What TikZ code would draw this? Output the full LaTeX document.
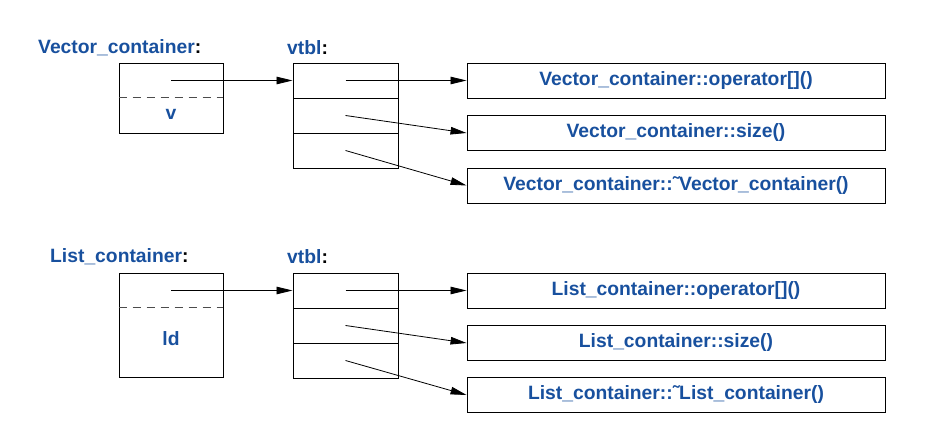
\documentclass[tikz,border=0pt]{standalone}
\usepackage{fontspec}
\setmainfont{Liberation Sans}
\usetikzlibrary{arrows.meta}
\definecolor{labelblue}{RGB}{24,80,158}

\tikzset{
  objbox/.style={draw, line width=0.9pt, minimum width=104pt, inner sep=0pt},
  slot/.style={draw, line width=0.9pt, minimum width=105pt, minimum height=35pt, inner sep=0pt},
  funcbox/.style={draw, line width=0.9pt, minimum width=418pt, minimum height=35pt, inner sep=0pt,
    font=\bfseries\fontsize{19.3}{22}\selectfont, text=labelblue},
  title/.style={anchor=west, inner sep=0pt, font=\bfseries\fontsize{19.3}{22}\selectfont},
  member/.style={inner sep=0pt, font=\bfseries\fontsize{19.3}{22}\selectfont, text=labelblue},
  ptr/.style={-{Triangle[length=16pt,width=7.5pt]}, line width=0.8pt},
  sep/.style={dashed, dash pattern=on 8pt off 6pt, line width=0.7pt, black!70}
}

\begin{document}
\begin{tikzpicture}[x=1pt, y=-1pt]

    \useasboundingbox (0,0) rectangle (927,438);

    % Vector_container object
    \node[title] (vname) at (38,48) {\textcolor{labelblue}{Vector\_container}:};
    \node[objbox, minimum height=70pt] (vobj) at (171,98) {};
    \draw[sep] (vobj.north west) ++(0,35) -- ++(104,0);
    \node[member] (vmem) at (171,114) {v};
    \coordinate (vp) at (171,80.5);

    % its vtbl
    \node[title] (vvtbl) at (287,48) {\textcolor{labelblue}{vtbl}:};
    \foreach \i/\y in {1/80.5, 2/115.5, 3/150.5}
        \node[slot] (vtab\i) at (345.5,\y) {};

    % Vector_container functions
    \node[funcbox] (vf1) at (676,80.5) {Vector\_container::operator[]()};
    \node[funcbox] (vf2) at (676,133) {Vector\_container::size()};
    \node[funcbox] (vf3) at (676,185.5) {Vector\_container::˜Vector\_container()};

    \draw[ptr] (vp) -- (vtab1.west);
    \draw[ptr] (vtab1.center) -- (vf1.west);
    \draw[ptr] (vtab2.center) -- (vf2.west);
    \draw[ptr] (vtab3.center) -- (vf3.west);

    % List_container object
    \node[title] (lname) at (50,257) {\textcolor{labelblue}{List\_container}:};
    \node[objbox, minimum height=104pt] (lobj) at (171,325) {};
    \draw[sep] (lobj.north west) ++(0,35) -- ++(104,0);
    \node[member] (lmem) at (171,339) {ld};
    \coordinate (lp) at (171,290.5);

    % its vtbl
    \node[title] (lvtbl) at (287,257) {\textcolor{labelblue}{vtbl}:};
    \foreach \i/\y in {1/290.5, 2/325.5, 3/360.5}
        \node[slot] (ltab\i) at (345.5,\y) {};

    % List_container functions
    \node[funcbox] (lf1) at (676,290.5) {List\_container::operator[]()};
    \node[funcbox] (lf2) at (676,343) {List\_container::size()};
    \node[funcbox] (lf3) at (676,395) {List\_container::˜List\_container()};

    \draw[ptr] (lp) -- (ltab1.west);
    \draw[ptr] (ltab1.center) -- (lf1.west);
    \draw[ptr] (ltab2.center) -- (lf2.west);
    \draw[ptr] (ltab3.center) -- (lf3.west);

\end{tikzpicture}
\end{document}
